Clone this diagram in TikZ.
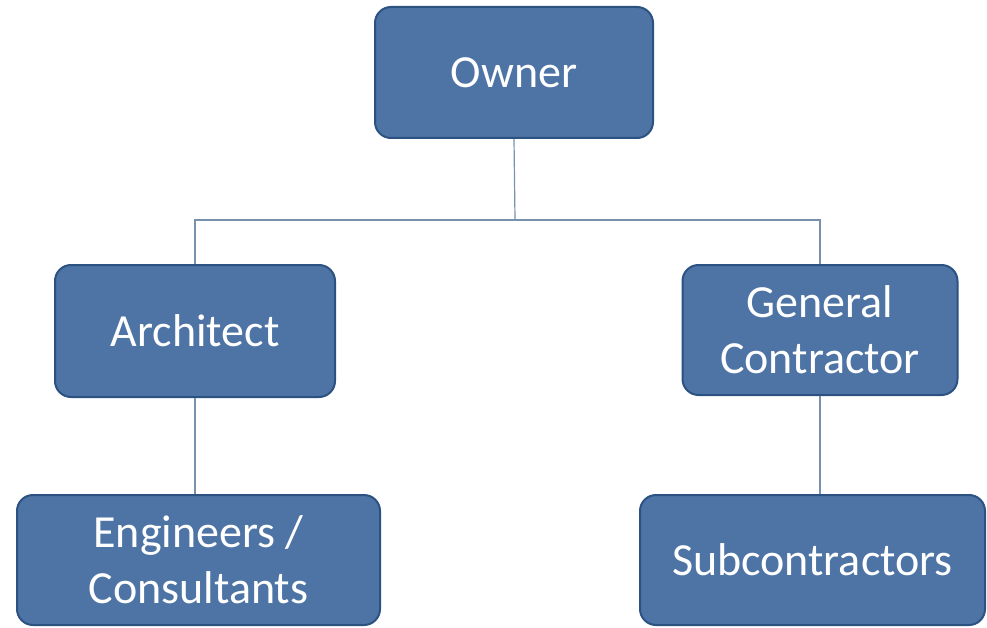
\documentclass[tikz,border=0pt]{standalone}
\usepackage{fontspec}
\setmainfont{Carlito}
\definecolor{boxfill}{RGB}{78,116,166}
\definecolor{boxedge}{RGB}{44,82,130}
\definecolor{linec}{RGB}{120,145,175}
\begin{document}
\begin{tikzpicture}[x=1pt,y=-1pt,
  orgbox/.style={draw=boxedge, line width=2pt, fill=boxfill, rounded corners=16pt,
    text=white, align=center, inner sep=0pt,
    font=\fontsize{46}{56}\selectfont},
  conn/.style={draw=linec, line width=1.2pt}]
\useasboundingbox (0,0) rectangle (987,628);
\node[orgbox, minimum width=278pt, minimum height=131pt] (own) at (514,72.5) {Owner};
\node[orgbox, minimum width=280pt, minimum height=132pt] (arch) at (195,331) {Architect};
\node[orgbox, minimum width=275pt, minimum height=130pt] (gc) at (820,330) {General\\Contractor};
\node[orgbox, minimum width=363pt, minimum height=130pt] (eng) at (198.5,560) {Engineers /\\Consultants};
\node[orgbox, minimum width=345pt, minimum height=130pt] (sub) at (812.5,560) {Subcontractors};
\coordinate (bus) at (515,220);
\draw[conn] (own.south) -- (bus);
\draw[conn] (arch.north) |- (bus) -| (gc.north);
\draw[conn] (arch.south) -- (arch.south |- eng.north);
\draw[conn] (gc.south) -- (gc.south |- sub.north);
\end{tikzpicture}
\end{document}
